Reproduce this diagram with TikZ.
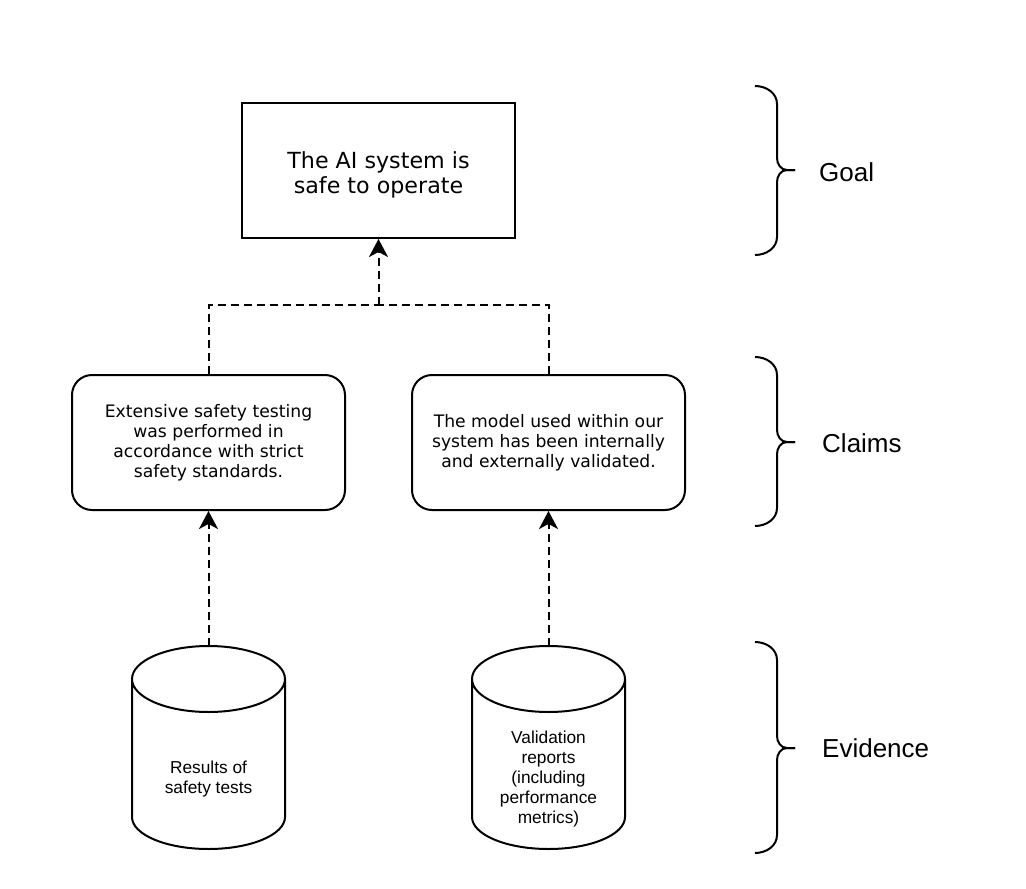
\documentclass[tikz,border=0pt]{standalone}
\usepackage{fontspec}
\setmainfont{Liberation Sans}
\newfontfamily\verdana{DejaVu Sans}
\usetikzlibrary{arrows.meta}

\begin{document}
\begin{tikzpicture}[x=1pt, y=1pt,
    goalbox/.style={draw, line width=2pt, minimum width=273pt, minimum height=135pt, inner sep=0pt, text height=50pt, align=center, font=\verdana\fontsize{22.2}{25}\selectfont},
    claimbox/.style={draw, line width=2pt, rounded corners=20pt, minimum width=273pt, minimum height=135pt, inner sep=0pt, align=center, font=\verdana\fontsize{17.2}{20}\selectfont},
    store/.style={inner sep=0pt, minimum width=153pt, minimum height=136pt, align=center, font=\fontsize{17.3}{20}\selectfont},
    outline/.style={line width=2pt},
    link/.style={line width=2pt, dash pattern=on 8pt off 5pt},
    tip/.style={-{Stealth[length=18pt,width=19pt,inset=5pt]}},
    bracket/.style={line width=2pt},
    layer/.style={anchor=west, inner sep=0pt, font=\fontsize{26}{30}\selectfont}]

  \useasboundingbox (0,0) rectangle (1026,-889); % Fixes the page

  \node [goalbox] (goal) at (378.5,-170.5) {The AI system is\\safe to operate}; % Goal box

  \node [claimbox] (testing) at (208.5,-442.5) {Extensive safety testing\\was performed in\\accordance with strict\\safety standards.}; % Left claim
  \node [claimbox] (model) at (548.5,-442.5) {The model used within our\\system has been internally\\and externally validated.}; % Right claim

  \node [store] (results) at (208.5,-779) {Results of\\safety tests}; % Left evidence
  \node [store] (reports) at (548.5,-779) {Validation\\reports\\(including\\performance\\metrics)}; % Right evidence

  % Draws the cylinders round the evidence texts
  \foreach \n in {results, reports} {
    \draw [outline] ([xshift=-76.5pt, yshift=100pt]\n.center) arc [start angle=180, end angle=-180, x radius=76.5pt, y radius=33pt]
      -- ([xshift=-76.5pt, yshift=-38pt]\n.center) arc [start angle=180, end angle=360, x radius=76.5pt, y radius=32pt]
      -- ([xshift=76.5pt, yshift=100pt]\n.center);
    \coordinate (\n-top) at ([yshift=133pt]\n.center);
  }

  \coordinate (join) at (378.5,-305);
  \draw [link] (testing.north) |- (join);
  \draw [link] (model.north) |- (join);
  \draw [link, tip] (join) -- (goal.south);

  \draw [link, tip] (results-top) -- (testing.south);
  \draw [link, tip] (reports-top) -- (model.south);

  % braces on the right
  \draw [bracket] (755,-86) to[out=0,in=90] (777,-104) -- (777,-158) to[out=-90,in=180] (787,-170) -- (795,-170);
  \draw [bracket] (795,-170) -- (787,-170) to[out=180,in=90] (777,-182) -- (777,-237) to[out=-90,in=0] (755,-255);

  \draw [bracket] (755,-357) to[out=0,in=90] (777,-375) -- (777,-430) to[out=-90,in=180] (787,-442) -- (795,-442);
  \draw [bracket] (795,-442) -- (787,-442) to[out=180,in=90] (777,-454) -- (777,-508) to[out=-90,in=0] (755,-526);

  \draw [bracket] (755,-642) to[out=0,in=90] (777,-660) -- (777,-736) to[out=-90,in=180] (787,-748) -- (795,-748);
  \draw [bracket] (795,-748) -- (787,-748) to[out=180,in=90] (777,-760) -- (777,-835) to[out=-90,in=0] (755,-853);

  \node [layer] (goallabel) at (819,-172) {Goal};
  \node [layer] (claimslabel) at (822,-443) {Claims};
  \node [layer] (evidencelabel) at (822,-748) {Evidence};
\end{tikzpicture}
\end{document}
